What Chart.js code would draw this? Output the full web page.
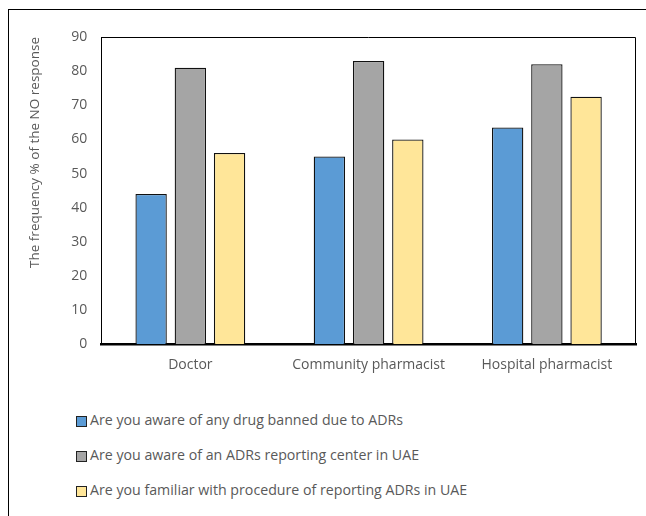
<!DOCTYPE html>
<html>
<head>
<meta charset="utf-8">
<script src="https://cdn.jsdelivr.net/npm/chart.js@4/dist/chart.umd.min.js"></script>
<style>
  body { margin: 0; background: #fff; width: 646px; height: 516px; overflow: hidden; position: relative; }
  .frame { position: absolute; left: 8px; top: 9px; width: 700px; height: 600px; border: 1.5px solid #000; box-sizing: border-box; }
  .chart-box { position: absolute; left: 0; top: 0; width: 646px; height: 390px; }
  #legend { position: absolute; left: 76px; top: 410px; font-family: "Open Sans", "Liberation Sans", sans-serif; font-size: 14.2px; color: #595959; }
  #legend .item { height: 35px; display: flex; align-items: flex-start; }
  #legend .box { width: 9px; height: 9px; border: 1px solid #222; margin-right: 3px; margin-top: 6px; }
</style>
</head>
<body>
<div class="frame"></div>
<div class="chart-box"><canvas id="barChart"></canvas></div>
<div id="legend"></div>
<script>
// data
const categories = ["Doctor", "Community pharmacist", "Hospital pharmacist"];
const seriesNames = [
  "Are you aware of any drug banned due to ADRs",
  "Are you aware of an ADRs reporting center in UAE",
  "Are you familiar with procedure of reporting ADRs in UAE"
];
const bannedDrug = [44, 55, 63.5];
const reportingCenter = [81, 83, 82];
const procedureKnown = [56, 60, 72.5];
const yTicks = [0, 10, 20, 30, 40, 50, 60, 70, 80, 90];

const barColors = ["#5B9BD5", "#A5A5A5", "#FFE699"];
const fontFamily = '"Open Sans", "Liberation Sans", sans-serif';

// thin border on top and right of the plot
const plotFrame = {
  id: 'plotFrame',
  afterDraw(chart) {
    const { ctx, chartArea } = chart;
    ctx.save();
    ctx.strokeStyle = '#000';
    ctx.lineWidth = 1;
    ctx.beginPath();
    ctx.moveTo(chartArea.left, chartArea.top + 0.5);
    ctx.lineTo(chartArea.right - 0.5, chartArea.top + 0.5);
    ctx.lineTo(chartArea.right - 0.5, chartArea.bottom);
    ctx.stroke();
    ctx.restore();
  }
};

const ctx = document.getElementById('barChart').getContext('2d');
const barChart = new Chart(ctx, {
  type: 'bar',
  data: {
    labels: categories,
    datasets: [bannedDrug, reportingCenter, procedureKnown].map((values, i) => ({
      label: seriesNames[i],
      data: values,
      backgroundColor: barColors[i],
      borderColor: '#111',
      borderWidth: 1.3,
      barPercentage: 0.8,
      categoryPercentage: 0.66
    }))
  },
  options: {
    responsive: true,
    maintainAspectRatio: false,
    animation: false,
    layout: { padding: { top: 37, right: 10, left: 23, bottom: 5 } },
    plugins: {
      legend: { display: false },
      tooltip: { enabled: false }
    },
    scales: {
      x: {
        grid: { display: false, drawTicks: false },
        border: { color: '#000', width: 2.5 },
        ticks: { color: '#595959', font: { family: fontFamily, size: 14 }, padding: 12 }
      },
      y: {
        min: 0,
        max: 90,
        afterBuildTicks(axis) { axis.ticks = yTicks.map(v => ({ value: v })); },
        grid: { display: false, drawTicks: false },
        border: { color: '#000', width: 1 },
        ticks: { color: '#595959', font: { family: fontFamily, size: 14 }, padding: 14 },
        title: {
          display: true,
          align: 'end',
          text: 'The frequency % of the NO response',
          color: '#595959',
          font: { family: fontFamily, size: 13.5 },
          padding: { bottom: 14 }
        }
      }
    }
  },
  plugins: [plotFrame]
});

// legend list below the chart
const legend = document.getElementById('legend');
barChart.data.datasets.forEach(ds => {
  const item = document.createElement('div');
  item.className = 'item';
  const box = document.createElement('span');
  box.className = 'box';
  box.style.background = ds.backgroundColor;
  const text = document.createElement('span');
  text.textContent = ds.label;
  item.appendChild(box);
  item.appendChild(text);
  legend.appendChild(item);
});
</script>
</body>
</html>
